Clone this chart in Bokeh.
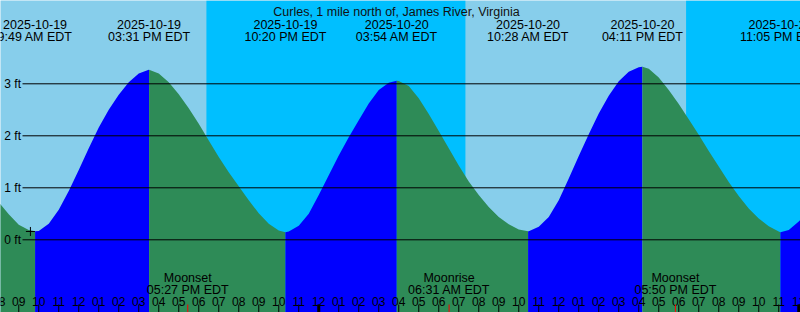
import pandas as pd
from bokeh.plotting import figure
from bokeh.models import ColumnDataSource
from bokeh.core.properties import value
from bokeh.embed import file_html
from bokeh.resources import INLINE

# ---------------- data ----------------
station = "Curles, 1 mile north of, James River, Virginia"
base = pd.Timestamp("2025-10-19 00:00")

# half-hourly tide level samples (ft), hours after 2025-10-19 00:00
sample_hours = [8 + 0.5 * i for i in range(82)]
sample_levels = [
    0.72, 0.49, 0.29, 0.19, 0.17, 0.31, 0.58, 0.94,   # 08:00 - 11:30
    1.34, 1.76, 2.16, 2.50, 2.79, 3.03, 3.20, 3.27,   # 12:00 - 15:30
    3.20, 3.03, 2.80, 2.53, 2.23, 1.91, 1.59, 1.30,   # 16:00 - 19:30
    1.03, 0.76, 0.51, 0.31, 0.18, 0.16, 0.27, 0.50,   # 20:00 - 23:30
    0.86, 1.24, 1.62, 1.97, 2.30, 2.62, 2.88, 3.02,   # 00:00 - 03:30
    3.055, 2.96, 2.72, 2.42, 2.09, 1.76, 1.43, 1.12,  # 04:00 - 07:30
    0.86, 0.63, 0.44, 0.30, 0.20, 0.166, 0.25, 0.44,  # 08:00 - 11:30
    0.76, 1.18, 1.61, 2.03, 2.43, 2.77, 3.05, 3.23,   # 12:00 - 15:30
    3.32, 3.29, 3.12, 2.88, 2.61, 2.32, 2.02, 1.71,   # 16:00 - 19:30
    1.41, 1.11, 0.84, 0.60, 0.41, 0.26, 0.16, 0.19,   # 20:00 - 23:30
    0.35, 0.56,                                       # 00:00 - 00:30
]
assert len(sample_hours) == len(sample_levels)

# high / low tide events
event_dates = ["2025-10-19", "2025-10-19", "2025-10-19", "2025-10-20",
               "2025-10-20", "2025-10-20", "2025-10-20"]
event_clock = ["9:49 AM EDT", "03:31 PM EDT", "10:20 PM EDT", "03:54 AM EDT",
               "10:28 AM EDT", "04:11 PM EDT", "11:05 PM EDT"]
event_stamp = ["2025-10-19 09:49", "2025-10-19 15:31", "2025-10-19 22:20",
               "2025-10-20 03:54", "2025-10-20 10:28", "2025-10-20 16:11",
               "2025-10-20 23:05"]
event_levels = [0.165, 3.27, 0.146, 3.06, 0.165, 3.33, 0.146]

# moon events
moon_names = ["Moonset", "Moonrise", "Moonset"]
moon_clock = ["05:27 PM EDT", "06:31 AM EDT", "05:50 PM EDT"]
moon_stamp = ["2025-10-19 17:27", "2025-10-20 06:31", "2025-10-20 17:50"]

# night intervals (sunset -> sunrise)
night_start = ["2025-10-19 18:23", "2025-10-20 18:22"]
night_end = ["2025-10-20 07:20", "2025-10-21 07:20"]

# grid levels and labels
grid_levels = [0, 1, 2, 3]
grid_labels = ["0 ft", "1 ft", "2 ft", "3 ft"]

# hour ticks
tick_hours = list(range(8, 49))
tick_labels = ["08", "09", "10", "11", "12", "01", "02", "03", "04", "05",
               "06", "07", "08", "09", "10", "11", "12", "01", "02", "03",
               "04", "05", "06", "07", "08", "09", "10", "11", "12", "01",
               "02", "03", "04", "05", "06", "07", "08", "09", "10", "11",
               "12"]
midnight_hours = [24, 48]

# marker
mark_stamp = "2025-10-19 09:35"
mark_level = 0.16

# ---------------- layout ----------------
W, H = 800, 312
X_START, X_END = 8.0875, 48.0875
Y_TOP, Y_BOT = 4.602, -1.398

DAY = "#87CEEB"
NIGHT = "#00BFFF"
RISE = "#0000FF"
FALL = "#2E8B57"
FONT = value("Liberation Sans")


def hrs(s):
    return (pd.Timestamp(s) - base) / pd.Timedelta(hours=1)


def px_y(py):
    return Y_TOP - py * (Y_TOP - Y_BOT) / H


def px_x(px):
    return X_START + px * (X_END - X_START) / W


p = figure(width=W, height=H, x_range=(X_START, X_END), y_range=(Y_BOT, Y_TOP),
           output_backend="svg", toolbar_location=None, min_border=0)
p.axis.visible = False
p.grid.visible = False
p.outline_line_color = None
p.background_fill_color = DAY
p.border_fill_color = DAY

# night shading
p.quad(left=[hrs(s) for s in night_start], right=[hrs(s) for s in night_end],
       bottom=Y_BOT, top=Y_TOP, fill_color=NIGHT, line_color=None)

# tide curve, split at highs/lows (blue = rising, green = falling)
ev_h = [hrs(s) for s in event_stamp]
merged = {}
for t, v in zip(sample_hours, sample_levels):
    merged[t] = v
for t, v in zip(ev_h, event_levels):
    merged[t] = v
pts = sorted(merged.items())
breaks = [X_START - 5] + ev_h + [X_END + 5]
for a, b in zip(breaks[:-1], breaks[1:]):
    seg = [(t, v) for t, v in pts if a <= t <= b]
    if len(seg) < 2:
        continue
    rising = seg[-1][1] > seg[0][1]
    color = RISE if rising else FALL
    p.varea(x=[t for t, _ in seg], y1=Y_BOT, y2=[v for _, v in seg],
            fill_color=color)

# grid lines
p.segment(x0=px_x(22), x1=X_END, y0=grid_levels, y1=grid_levels,
          line_color="black", line_width=1)
p.text(x=px_x(20.5), y=grid_levels, text=grid_labels, text_font=FONT,
       text_font_size="12px", text_align="right", text_baseline="middle",
       text_color="black")

# title
p.text(x=[px_x(396)], y=[px_y(11)], text=[station], text_font=FONT,
       text_font_size="12.5px", text_align="center", text_baseline="alphabetic",
       text_color="#111111")

# event labels
ev_src = ColumnDataSource(dict(x=ev_h, d=event_dates, c=event_clock))
p.text(x="x", y=px_y(24), text="d", source=ev_src, text_font=FONT,
       text_font_size="12.5px", text_align="center", text_baseline="alphabetic",
       text_color="black")
p.text(x="x", y=px_y(36.5), text="c", source=ev_src, text_font=FONT,
       text_font_size="12.5px", text_align="center", text_baseline="alphabetic",
       text_color="black")

# moon labels
moon_h = [hrs(s) for s in moon_stamp]
mo_src = ColumnDataSource(dict(x=moon_h, n=moon_names, c=moon_clock))
p.text(x="x", y=px_y(277.5), text="n", source=mo_src, text_font=FONT,
       text_font_size="12.5px", text_align="center", text_baseline="alphabetic",
       text_color="black")
p.text(x="x", y=px_y(289.5), text="c", source=mo_src, text_font=FONT,
       text_font_size="12.5px", text_align="center", text_baseline="alphabetic",
       text_color="black")

# hour labels and ticks
p.text(x=tick_hours, y=px_y(301), text=tick_labels, text_font=FONT,
       text_font_size="12px", text_align="center", text_baseline="alphabetic",
       text_color="black")
p.segment(x0=tick_hours, x1=tick_hours, y0=px_y(304), y1=Y_BOT,
          line_color="black", line_width=1)
p.segment(x0=midnight_hours, x1=midnight_hours, y0=px_y(304), y1=Y_BOT,
          line_color="black", line_width=3)
p.segment(x0=moon_h, x1=moon_h, y0=px_y(304), y1=Y_BOT,
          line_color="red", line_width=1)

# current-time mark
p.scatter(x=[hrs(mark_stamp)], y=[mark_level], marker="cross", size=9,
          line_color="black", line_width=1)

open("out.html", "w").write(file_html(p, INLINE))
